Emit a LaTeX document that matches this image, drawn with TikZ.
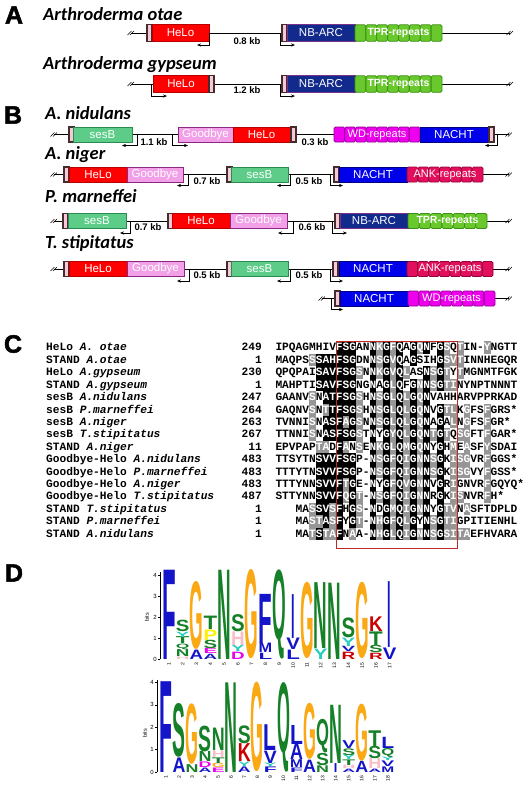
\documentclass[tikz,border=0pt]{standalone}
\usepackage{fontspec}
\setmainfont{Liberation Sans}
\setmonofont{Liberation Mono}
\newfontfamily\titlefont{Carlito}
\newfontfamily\panelfont[BoldFont={Liberation Sans Bold}, BoldFeatures={FakeBold=2}]{Liberation Sans}
\usepackage{graphicx}
\usetikzlibrary{arrows.meta}

\definecolor{heloRed}{RGB}{255,0,0}
\definecolor{heloEdge}{RGB}{185,0,0}
\definecolor{arcNavy}{RGB}{18,42,140}
\definecolor{arcEdge}{RGB}{120,50,140}
\definecolor{tprGreen}{RGB}{104,200,44}
\definecolor{tprEdge}{RGB}{60,145,20}
\definecolor{sesGreen}{RGB}{92,204,136}
\definecolor{sesEdge}{RGB}{40,140,80}
\definecolor{gbyPink}{RGB}{242,160,232}
\definecolor{gbyEdge}{RGB}{140,40,130}
\definecolor{nachtBlue}{RGB}{0,0,235}
\definecolor{nachtEdge}{RGB}{0,0,130}
\definecolor{wdMag}{RGB}{238,0,238}
\definecolor{wdEdge}{RGB}{150,0,150}
\definecolor{ankRed}{RGB}{226,16,92}
\definecolor{ankEdge}{RGB}{150,0,60}
\definecolor{mkPink}{RGB}{246,200,216}
\definecolor{mkEdge}{RGB}{70,45,45}
\definecolor{alnGray}{RGB}{150,150,150}
\definecolor{boxRed}{RGB}{190,40,40}
\definecolor{lgB}{RGB}{20,20,200}
\definecolor{lgO}{RGB}{250,168,20}
\definecolor{lgG}{RGB}{22,128,40}
\definecolor{lgC}{RGB}{40,205,190}
\definecolor{lgH}{RGB}{250,190,200}
\definecolor{lgR}{RGB}{205,0,0}
\definecolor{lgM}{RGB}{235,0,235}
\definecolor{lgY}{RGB}{255,240,0}

% one alignment row: id, y, residues (x = blank), shading (k black, g gray, w none)
\makeatletter
\newcount\alncol
\newcommand\alnrow[4]{%
  \alncol=0
  \def\aln@row{#1}\def\aln@y{#2}%
  \aln@step#3\@nil#4wwww\@nil}
\def\aln@step#1#2\@nil#3#4\@nil{%
  \aln@cell#1#3%
  \advance\alncol by 1
  \def\aln@rest{#2}%
  \ifx\aln@rest\@empty\else\aln@step#2\@nil#4\@nil\fi}
\def\aln@cell#1#2{%
  \pgfmathsetmacro\aln@x{275.5+6.72*\the\alncol}%
  \def\aln@tc{black}%
  \if k#2\fill[black] (\aln@x,\aln@y-6.21) rectangle ++(6.72,12.42);\def\aln@tc{white}\fi
  \if g#2\fill[alnGray] (\aln@x,\aln@y-6.21) rectangle ++(6.72,12.42);\def\aln@tc{white}\fi
  \if x#1\else\node[alnres,text=\aln@tc] (r\aln@row-\the\alncol) at (\aln@x+3.36,\aln@y) {#1};\fi}
\makeatother

% repeat domains: name, x, y, width, cells, kind, text, height
\newcommand\repbox[8]{%
  \foreach \k in {1,...,#5}
    \draw[#6cell] ({#2+(\k-1)*#4/#5},{#3-#8/2}) rectangle ++({#4/#5},#8);
  \node[#6text] (#1) at ({#2+#4/2},#3) {#7};}

\begin{document}
\begin{tikzpicture}[x=1pt,y=-1pt,
  plabel/.style={font=\fontsize{25}{25}\selectfont\panelfont\bfseries, inner sep=0pt},
  title/.style={anchor=west, inner sep=0pt, font=\fontsize{18.5}{19}\selectfont\titlefont\bfseries\itshape},
  gline/.style={line width=0.6pt},
  gbox/.style={draw, line width=0.9pt, anchor=west, inner sep=0pt, outer sep=0pt, minimum height=15, text=white, font=\fontsize{11.5}{12}\selectfont},
  helo/.style={gbox, fill=heloRed, draw=heloEdge},
  nbarc/.style={gbox, fill=arcNavy, draw=arcEdge},
  sesb/.style={gbox, fill=sesGreen, draw=sesEdge},
  gby/.style={gbox, fill=gbyPink, draw=gbyEdge},
  nacht/.style={gbox, fill=nachtBlue, draw=nachtEdge},
  mk/.style={gbox, fill=mkPink, draw=mkEdge, line width=1.1pt, minimum width=5},
  tprcell/.style={fill=tprGreen, draw=tprEdge, line width=0.8pt, rounded corners=1.5pt},
  wdcell/.style={fill=wdMag, draw=wdEdge, line width=0.8pt, rounded corners=1.5pt},
  ankcell/.style={fill=ankRed, draw=ankEdge, line width=0.8pt, rounded corners=1.5pt},
  tprtext/.style={text=white, inner sep=0pt, font=\fontsize{10.5}{11}\selectfont\bfseries},
  wdtext/.style={text=white, inner sep=0pt, font=\fontsize{11}{11}\selectfont},
  anktext/.style={wdtext},
  kb/.style={inner sep=0pt, font=\fontsize{9.5}{10}\selectfont\bfseries},
  tss/.style={-{Stealth[length=4pt,width=3.2pt]}, line width=0.6pt},
  brk/.pic={\draw[line width=0.5pt] (-3.5,2) -- (0.5,-2) (-1,2) -- (3,-2);},
  alnlab/.style={inner sep=0pt, font=\fontsize{11.2}{12}\selectfont\ttfamily\bfseries, text height=6.4pt, text depth=0pt},
  alnres/.style={alnlab},
  lglet/.style={inner sep=0pt, outer sep=0pt, anchor=south, font=\bfseries},
  lgaxis/.style={line width=0.5pt},
  lgtick/.style={anchor=east, inner sep=1pt, font=\fontsize{6}{6}\selectfont},
  lgnum/.style={rotate=90, anchor=east, inner sep=0.5pt, font=\fontsize{5}{5}\selectfont},
  lgbits/.style={rotate=90, inner sep=0pt, font=\fontsize{5.5}{6}\selectfont}
]
\fill[white] (0,0) rectangle (529,788);
\useasboundingbox (0,0) rectangle (529,788);

% ---------- A
\node[plabel] (pA) at (14,15) {A};
\begin{scope}[gbox/.append style={minimum height=16.5}]
\node[title] (tA1) at (43,14) {Arthroderma otae};
\coordinate (a1s) at (131,33); \coordinate (a1e) at (510,33);
\draw[gline] (a1s) -- (a1e);
\pic at (a1s) {brk}; \pic at (a1e) {brk};
\node[mk] (a1m1) at (147,33) {};
\node[helo, minimum width=57] (a1helo) at (152,33) {HeLo};
\draw[tss] (a1helo.east) |- ++(-12,12);
\node[kb] (a1kb) at (247,41) {0.8 kb};
\node[mk] (a1m2) at (282,33) {};
\draw[tss] ([xshift=-2]a1m2.west) |- ++(15,12);
\node[nbarc, minimum width=68] (a1arc) at (287,33) {NB-ARC};
\repbox{a1tpr}{355}{33}{87}{8}{tpr}{TPR-repeats}{16.5}

\node[title] (tA2) at (43,65) {Arthroderma gypseum};
\coordinate (a2s) at (131,84); \coordinate (a2e) at (510,84);
\draw[gline] (a2s) -- (a2e);
\pic at (a2s) {brk}; \pic at (a2e) {brk};
\node[helo, minimum width=56] (a2helo) at (153,84) {HeLo};
\draw[tss] ([xshift=-2]a2helo.west) |- ++(16,12);
\node[mk] (a2m1) at (209,84) {};
\node[kb] (a2kb) at (247,90) {1.2 kb};
\node[mk] (a2m2) at (282,84) {};
\draw[tss] ([xshift=-2]a2m2.west) |- ++(15,12);
\node[nbarc, minimum width=68] (a2arc) at (287,84) {NB-ARC};
\repbox{a2tpr}{355}{84}{87}{8}{tpr}{TPR-repeats}{16.5}
\end{scope}

% ---------- B
\node[plabel] (pB) at (13,115) {B};
\node[title] (tB1) at (45,113) {A. nidulans};
\coordinate (b1s) at (54,134.5); \coordinate (b1e) at (509,134.5);
\draw[gline] (b1s) -- (b1e);
\pic at (b1s) {brk}; \pic at (b1e) {brk};
\node[mk] (b1m1) at (69,134.5) {};
\node[sesb, minimum width=59] (b1ses) at (73,134.5) {sesB};
\draw[tss] ([xshift=5]b1ses.east) |- ++(-15,11);
\node[kb] (b1kb1) at (154,142) {1.1 kb};
\node[gby, minimum width=55] (b1gby) at (178,134.5) {Goodbye};
\draw[tss] ([xshift=-6]b1gby.west) |- ++(16,11);
\node[helo, minimum width=57] (b1helo) at (233,134.5) {HeLo};
\node[mk] (b1m2) at (291,134.5) {};
\node[kb] (b1kb2) at (315,142) {0.3 kb};
\repbox{b1wd}{334}{134.5}{86}{8}{wd}{WD-repeats}{15}
\node[nacht, minimum width=68] (b1nacht) at (420,134.5) {NACHT};
\node[mk] (b1m3) at (489,134.5) {};
\draw[tss] ([xshift=3]b1m3.east) |- ++(-12,11);

\node[title] (tB2) at (45,155) {A. niger};
\coordinate (b2s) at (54,174.5); \coordinate (b2e) at (509,174.5);
\draw[gline] (b2s) -- (b2e);
\pic at (b2s) {brk}; \pic at (b2e) {brk};
\node[mk] (b2m1) at (64,174.5) {};
\node[helo, minimum width=58] (b2helo) at (69,174.5) {HeLo};
\node[gby, minimum width=56] (b2gby) at (127,174.5) {Goodbye};
\draw[tss] ([xshift=5]b2gby.east) |- ++(-11,11);
\node[kb] (b2kb1) at (207,181) {0.7 kb};
\node[mk] (b2m2) at (227,174.5) {};
\node[sesb, minimum width=57] (b2ses) at (231,174.5) {sesB};
\draw[tss] ([xshift=2]b2ses.east) |- ++(-13,11);
\node[kb] (b2kb2) at (309,181) {0.5 kb};
\node[mk] (b2m3) at (334,174.5) {};
\draw[tss] ([xshift=-4]b2m3.west) |- ++(13,11);
\node[nacht, minimum width=68] (b2nacht) at (339,174.5) {NACHT};
\repbox{b2ank}{407}{174.5}{76}{7}{ank}{ANK-repeats}{15}

\node[title] (tB3) at (45,196) {P. marneffei};
\coordinate (b3s) at (54,221); \coordinate (b3e) at (509,221);
\draw[gline] (b3s) -- (b3e);
\pic at (b3s) {brk}; \pic at (b3e) {brk};
\node[mk] (b3m1) at (63,221) {};
\node[sesb, minimum width=58] (b3ses) at (68,221) {sesB};
\draw[tss] ([xshift=4]b3ses.east) |- ++(-10,12);
\node[kb] (b3kb1) at (148,227) {0.7 kb};
\node[mk] (b3m2) at (168,221) {};
\node[helo, minimum width=58] (b3helo) at (172,221) {HeLo};
\node[gby, minimum width=57] (b3gby) at (230,221) {Goodbye};
\draw[tss] ([xshift=6]b3gby.east) |- ++(-15,12);
\node[kb] (b3kb2) at (312,227) {0.6 kb};
\node[mk] (b3m3) at (335,221) {};
\draw[tss] ([xshift=-3]b3m3.west) |- ++(15,12);
\node[nbarc, minimum width=68] (b3arc) at (340,221) {NB-ARC};
\repbox{b3tpr}{408}{221}{79}{7}{tpr}{TPR-repeats}{15}

\node[title] (tB4) at (45,243) {T. stipitatus};
\coordinate (b4s) at (54,269); \coordinate (b4e) at (509,269);
\draw[gline] (b4s) -- (b4e);
\pic at (b4s) {brk}; \pic at (b4e) {brk};
\node[mk] (b4m1) at (64,269) {};
\node[helo, minimum width=58] (b4helo) at (69,269) {HeLo};
\node[gby, minimum width=57] (b4gby) at (127,269) {Goodbye};
\draw[tss] ([xshift=5]b4gby.east) |- ++(-12,12);
\node[kb] (b4kb1) at (207,275) {0.5 kb};
\node[mk] (b4m2) at (227,269) {};
\node[sesb, minimum width=57] (b4ses) at (231,269) {sesB};
\draw[tss] ([xshift=2]b4ses.east) |- ++(-13,12);
\node[kb] (b4kb2) at (309,275) {0.5 kb};
\node[mk] (b4m3) at (333,269) {};
\draw[tss] ([xshift=-3]b4m3.west) |- ++(13,12);
\node[nacht, minimum width=68] (b4nacht) at (339,269) {NACHT};
\repbox{b4ank}{407}{269}{86}{8}{ank}{ANK-repeats}{15}

\coordinate (b5s) at (322,298.5); \coordinate (b5e) at (509,298.5);
\draw[gline] (b5s) -- (b5e);
\pic at (b5s) {brk}; \pic at (b5e) {brk};
\node[mk] (b5m1) at (335,298.5) {};
\draw[tss] ([xshift=-4]b5m1.west) |- ++(12,11);
\node[nacht, minimum width=68] (b5nacht) at (340,298.5) {NACHT};
\repbox{b5wd}{408}{298.5}{87}{8}{wd}{WD-repeats}{15}

% ---------- C
\node[plabel] (pC) at (13,344) {C};
\foreach \i/\lab/\num/\seq/\shd in {
 1/{HeLo \textit{A. otae}}/249/IPQAGMHIVFSGANNKGFQAGQNFGSQTIN-YNGTT/wwwwwwwwwkkkwwkgkgkwkgkwkgwgwwwgwwww,
 2/{STAND \textit{A.otae}}/1/MAQPSSSAHFSGDNNSGVQAGSIHGSVTINNHEGQR/wwwwwgkkkkkkwwkgkgkwkwwwkgggwwwwwwww,
 3/{HeLo \textit{A.gypseum}}/230/QPQPAISAVFSGSNNKGVQLASNSGTYTMGNMTFGK/wwwwwwkkkkkkgwkgkgkgwwkgkgwgwwwwwwww,
 4/{STAND \textit{A.gypseum}}/1/MAHPTISAVFSGNGNAGLQFGNNSGTINYNPTNNNT/wwwwwwkkkkkkwwkwkgkwkgkgkggwwwwwwwww,
 5/{sesB \textit{A.nidulans}}/247/GAANVSNATFSGSHNSGLQLGQNVAHHARVPPRKAD/wwwwwgwkkkkkgwkgkgkgkgkwwwwwwwwwwwww,
 6/{sesB \textit{P.marneffei}}/264/GAQNVSNTTFSGSHNSGLQLGQNVGTLKGFSFGRS*/wwwwwgwgkkkkgwkgkgkgkgkwkggwgwwgwwww,
 7/{sesB \textit{A.niger}}/263/TVNNISNASFAGSNNSGLQLGQNAGALNGFSFGR*/wwwwwgwkkkgkgwkgkgkgkgkwkwgwgwwgwwww,
 8/{sesB \textit{T.stipitatus}}/267/TTNNISNASFSGSTNYGYQLGQNTGTQSGFTFGAR*/wwwwwgwkkkkkgwkwkgkgkgkgkgwggwwgwwww,
 9/{STAND \textit{A.niger}}/11/EPVPAPTADFANSENKGLQMGQNYGHMEASFYSDAI/wwwwwwggwkgwgwkgkgkgkgkwkwgwgwwgwwww,
 10/{Goodbye-Helo \textit{A.nidulans}}/483/TTSYTNSVVFSGP-NSGFQIGNNSGKISGVRFGGS*/wwwwwwkkkkkkwwkgkgkgkgkgkwgggwwgwwww,
 11/{Goodbye-Helo \textit{P.marneffei}}/483/TTTYTNSVVFSGP-NSGFQIGNNSGKISGVYFGSS*/wwwwwwkkkkkkwwkgkgkgkgkgkwgggwwgwwww,
 12/{Goodbye-Helo \textit{A.niger}}/483/TTTYNNSVVFTGE-NYGFQVGNNVGRIGNVRFGQYQ*/wwwwwwkkkkgkwwkwkgkgkgkwkwgwwwwgwwww,
 13/{Goodbye-Helo \textit{T.stipitatus}}/487/STTYNNSVVFQGT-NSGFQIGNNRGKISNVRFH*/wwwwwwkkkkgkgwkgkgkgkgkwkwggwwwgwwww,
 14/{STAND \textit{T.stipitatus}}/1/xxxMASSVSFHGS-NDGMQIGNNYGTVNASFTDPLD/wwwwwgkkgkwkgwkwkgkgkgkwkggwgwwwwwww,
 15/{STAND \textit{P.marneffei}}/1/xxxMASTASFYGT-NHGFQLGYNSGTIGPITIENHL/wwwwwggkgkwkgwkgkgkgkwkgkggwwwwwwwww,
 16/{STAND \textit{A.nidulans}}/1/xxxMATSTAFNAA-NHGLQIGNNSGSITAEFHVARA/wwwwwgkggkwgwwkgkgkgkgkgkggggwwwwwww}{
  \pgfmathsetmacro\yy{347.7+12.42*(\i-1)}
  \node[alnlab, anchor=west] (lab\i) at (46,\yy) {\lab};
  \node[alnlab, anchor=east] (num\i) at (262,\yy) {\num};
  \edef\doit{\noexpand\alnrow{\i}{\yy}{\seq}{\shd}}\doit
}
\draw[boxRed, line width=0.7pt] (336,341) rectangle (457,548);

% ---------- D
\node[plabel] (pD) at (14,573) {D};
% first logo
\draw[lgaxis] (160,659) -- (160,572);
\foreach \v in {0,...,4}
  \draw[lgaxis] (160,{659-20.9*\v}) -- ++(-2,0) node[lgtick] (ta\v) {\v};
\node[lgbits] (bitsA) at (147,617) {bits};
\foreach \c in {1,...,17}
  \node[lgnum] (na\c) at ({162+13.8*(\c-0.5)},662) {\c};
\foreach \c/\l/\b/\t/\cl in {
 1/F/0/4.27/lgB,
 2/H/0/0.12/lgH, 2/N/0.12/0.45/lgG, 2/Q/0.45/0.72/lgG, 2/T/0.72/1.05/lgG, 2/Y/1.05/1.3/lgC, 2/S/1.3/1.85/lgG,
 3/A/0/0.45/lgB, 3/G/0.45/3.7/lgO,
 4/A/0/0.25/lgB, 4/E/0.25/0.5/lgM, 4/S/0.5/0.9/lgG, 4/P/0.9/1.4/lgY, 4/T/1.4/2.04/lgG,
 5/N/0/4.27/lgG,
 6/D/0/0.35/lgM, 6/Y/0.35/0.65/lgC, 6/H/0.65/1.3/lgH, 6/S/1.3/2.12/lgG,
 7/G/0/4.27/lgO,
 8/L/0/0.3/lgB, 8/M/0.3/0.75/lgB, 8/F/0.75/3.1/lgB,
 9/Q/0/4.27/lgG,
 10/L/0/0.45/lgB, 10/V/0.45/1.0/lgB, 10/I/1.0/3.1/lgB,
 11/G/0/3.65/lgO,
 12/Y/0/0.5/lgC, 12/N/0.5/3.65/lgG,
 13/N/0/3.65/lgG,
 14/R/0/0.35/lgR, 14/V/0.35/0.6/lgB, 14/Y/0.6/1.0/lgC, 14/S/1.0/1.95/lgG,
 15/G/0/3.65/lgO,
 16/R/0/0.3/lgR, 16/S/0.3/0.65/lgG, 16/T/0.65/1.3/lgG, 16/K/1.3/2.0/lgR,
 17/V/0/0.55/lgB, 17/I/0.55/3.7/lgB}{
  \pgfmathsetmacro\lh{20.9*(\t-\b)}
  \def\lw{13.6}\if I\l\def\lw{3.5}\fi
  \node[lglet, text=\cl] (la\c\l) at ({162+13.8*(\c-0.5)},{659-20.9*\b}) {\resizebox*{\lw pt}{\lh pt}{\l}};
}
% second logo
\draw[lgaxis] (157,772) -- (157,680);
\foreach \v in {0,...,4}
  \draw[lgaxis] (157,{772-22.4*\v}) -- ++(-2,0) node[lgtick] (tb\v) {\v};
\node[lgbits] (bitsB) at (145,733) {bits};
\foreach \c in {1,...,18}
  \node[lgnum] (nb\c) at ({159.5+13.05*(\c-0.5)},775) {\c};
\foreach \c/\l/\b/\t/\cl in {
 1/F/0/4.05/lgB,
 2/A/0/0.65/lgB, 2/S/0.65/3.05/lgG,
 3/N/0/0.35/lgG, 3/G/0.35/3.05/lgO,
 4/A/0/0.2/lgB, 4/D/0.2/0.45/lgM, 4/N/0.45/0.9/lgG, 4/S/0.9/2.05/lgG,
 5/E/0/0.2/lgM, 5/G/0.2/0.4/lgO, 5/T/0.4/0.65/lgG, 5/H/0.65/0.95/lgH, 5/N/0.95/1.95/lgG,
 6/N/0/4.0/lgG,
 7/A/0/0.25/lgB, 7/Y/0.25/0.45/lgC, 7/K/0.45/1.25/lgR, 7/S/1.25/2.05/lgG,
 8/G/0/4.0/lgO,
 9/F/0/0.25/lgB, 9/Y/0.25/0.4/lgC, 9/V/0.4/0.95/lgB, 9/L/0.95/2.1/lgB,
 10/Q/0/4.0/lgG,
 11/F/0/0.2/lgB, 11/M/0.2/0.55/lgB, 11/A/0.55/1.25/lgB, 11/L/1.25/2.1/lgB,
 12/A/0/0.55/lgB, 12/G/0.55/3.05/lgO,
 13/N/0/0.3/lgG, 13/S/0.3/0.85/lgG, 13/Q/0.85/2.35/lgG,
 14/I/0/0.4/lgB, 14/N/0.4/3.0/lgG,
 15/A/0/0.15/lgB, 15/H/0.15/0.3/lgH, 15/T/0.3/0.55/lgG, 15/Y/0.55/0.75/lgC, 15/S/0.75/1.05/lgG, 15/V/1.05/1.4/lgB,
 16/A/0/0.5/lgB, 16/G/0.5/3.05/lgO,
 17/A/0/0.15/lgB, 17/H/0.15/0.6/lgH, 17/S/0.6/1.15/lgG, 17/T/1.15/1.85/lgG,
 18/M/0/0.25/lgB, 18/V/0.25/0.5/lgB, 18/Y/0.5/0.65/lgC, 18/Q/0.65/1.05/lgG, 18/L/1.05/1.55/lgB}{
  \pgfmathsetmacro\lh{22.4*(\t-\b)}
  \def\lw{12.9}\if I\l\def\lw{3.5}\fi
  \node[lglet, text=\cl] (lb\c\l) at ({159.5+13.05*(\c-0.5)},{772-22.4*\b}) {\resizebox*{\lw pt}{\lh pt}{\l}};
}
\end{tikzpicture}
\end{document}
